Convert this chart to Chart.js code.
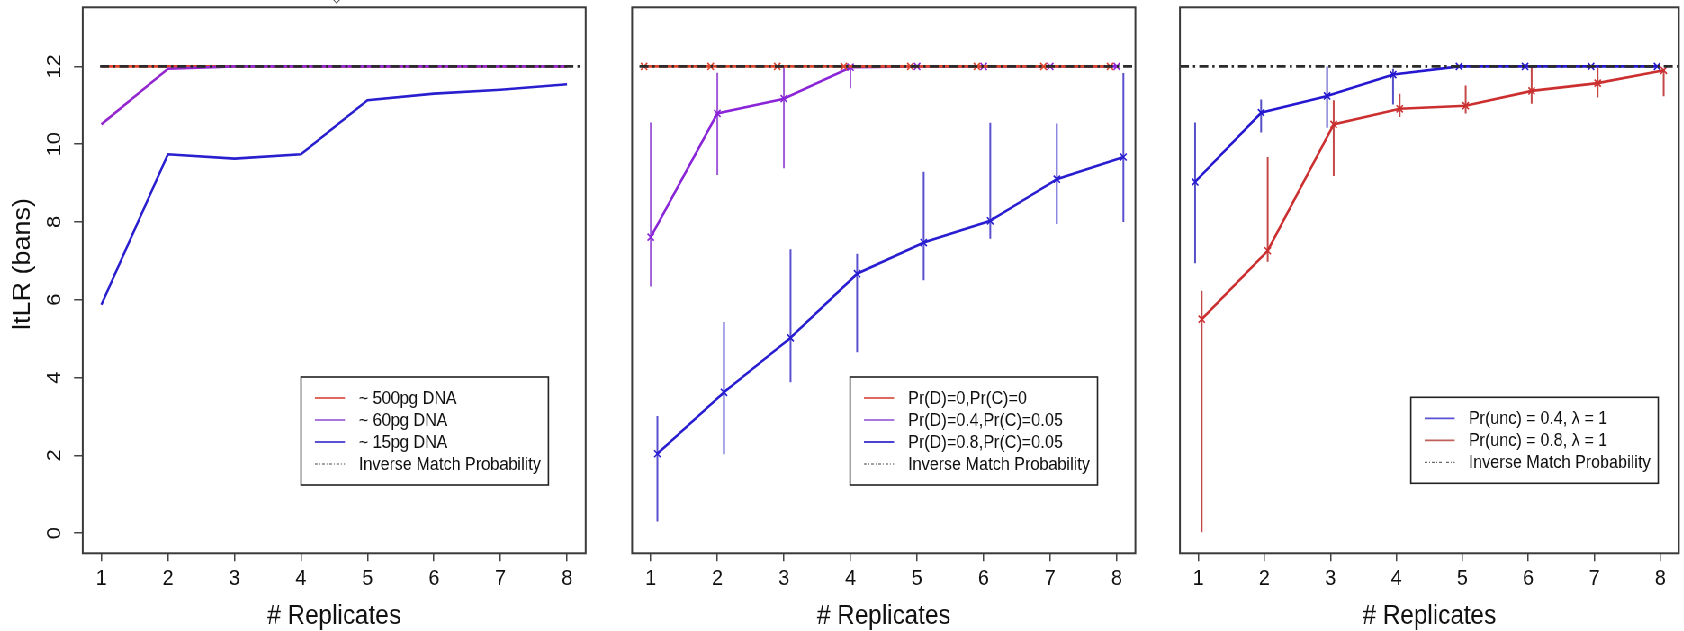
<!DOCTYPE html>
<html>
<head>
<meta charset="utf-8">
<script src="https://cdn.jsdelivr.net/npm/chart.js@4.4.1/dist/chart.umd.min.js"></script>
<style>
  html, body { margin: 0; padding: 0; background: #fff; overflow: hidden; width: 1684px; height: 631px; }
  #page { position: absolute; left: 0; top: 0; width: 1872px; height: 631px; transform: scaleX(0.9); transform-origin: 0 0; }
  #page canvas { position: absolute; top: 0; }
</style>
</head>
<body>
<div id="page">
  <canvas id="c1" width="680" height="631" style="left:0px"></canvas>
  <canvas id="c2" width="610" height="631" style="left:680px"></canvas>
  <canvas id="c3" width="582" height="631" style="left:1290px"></canvas>
</div>
<script>
// values
const replicates = [1, 2, 3, 4, 5, 6, 7, 8];
const yTicks = [0, 2, 4, 6, 8, 10, 12];
const impValue = 12;
const impLabel = 'Inverse Match Probability';

// left panel: amount of DNA
const p1Names = ['~ 500pg DNA', '~ 60pg DNA', '~ 15pg DNA'];
const p1Dna500 = [12, 12, 12, 12, 12, 12, 12, 12];
const p1Dna60 = [10.51, 11.94, 12, 12, 12, 12, 12, 12];
const p1Dna15 = [5.87, 9.74, 9.63, 9.74, 11.13, 11.30, 11.40, 11.54];
const p1ImpX = [0.98, 8.25];

// middle panel: dropout / dropin
const p2Names = ['Pr(D)=0,Pr(C)=0', 'Pr(D)=0.4,Pr(C)=0.05', 'Pr(D)=0.8,Pr(C)=0.05'];
const p2Zero = [12, 12, 12, 12, 12, 12, 12, 12];
const p2Mid = [7.61, 10.79, 11.17, 11.98, 12, 12, 12, 12];
const p2MidLo = [6.34, 9.21, 9.38, 11.44, 12, 12, 12, 12];
const p2MidHi = [10.56, 11.84, 12.0, 12.0, 12, 12, 12, 12];
const p2High = [2.04, 3.62, 5.02, 6.67, 7.47, 8.03, 9.10, 9.67];
const p2HighLo = [0.30, 2.03, 3.88, 4.65, 6.50, 7.57, 7.95, 8.00];
const p2HighHi = [3.01, 5.43, 7.30, 7.18, 9.29, 10.55, 10.53, 11.83];
const p2ImpX = [0.83, 8.25];

// right panel: uncertain alleles
const p3Names = ['Pr(unc) = 0.4, \u03bb = 1', 'Pr(unc) = 0.8, \u03bb = 1'];
const p3Unc4 = [9.03, 10.81, 11.24, 11.79, 12, 12, 12, 12];
const p3Unc4Lo = [6.94, 10.30, 10.42, 11.02, 12, 12, 12, 12];
const p3Unc4Hi = [10.56, 11.15, 12.0, 11.94, 12, 12, 12, 12];
const p3Unc8 = [5.50, 7.26, 10.51, 10.91, 10.99, 11.37, 11.57, 11.90];
const p3Unc8Lo = [0.02, 6.98, 9.18, 10.70, 10.79, 11.04, 11.20, 11.23];
const p3Unc8Hi = [6.23, 9.67, 11.13, 11.30, 11.51, 11.98, 11.98, 11.94];
const p3ImpX = [0.72, 8.28];

const FONT = '"Liberation Sans", Arial, sans-serif';
Chart.defaults.font.family = FONT;
Chart.defaults.color = '#111';

const lineSet = (label, xs, ys, color, marker) => ({
  label: label,
  data: xs.map((x, i) => ({ x: x, y: ys[i] })),
  borderColor: color,
  backgroundColor: color,
  borderWidth: 2.6,
  pointStyle: 'crossRot',
  pointRadius: marker ? 5 : 0,
  pointBorderWidth: 1.6,
  pointBorderColor: color,
  tension: 0
});
const barSet = (xs, lo, hi, color) => ({
  data: xs.flatMap((x, i) => [{ x: x, y: lo[i] }, { x: x, y: hi[i] }, { x: x, y: null }]),
  borderColor: color,
  borderWidth: 2,
  pointRadius: 0,
  spanGaps: false
});
const impSet = xs => ({
  label: impLabel,
  data: xs.map(x => ({ x: x, y: impValue })),
  borderColor: '#2b2b2b',
  borderWidth: 2.6,
  borderDash: [10, 4.5, 2.5, 4.5],
  pointRadius: 0
});

const framePlugin = {
  id: 'frame',
  afterDraw(chart) {
    const { ctx, chartArea: a } = chart;
    ctx.save();
    ctx.strokeStyle = '#3a3a3a';
    ctx.lineWidth = 2;
    ctx.strokeRect(a.left, a.top, a.right - a.left, a.bottom - a.top);
    ctx.restore();
  }
};

function legendPlugin(items, right, bottom) {
  return {
    id: 'boxLegend',
    afterDatasetsDraw(chart) {
      const { ctx, chartArea: a } = chart;
      ctx.save();
      ctx.font = '18px ' + FONT;
      const textW = Math.max(...items.map(it => ctx.measureText(it.label).width));
      const w = 64.3 + textW + 8.5;
      const h = items.length * 22 + 20;
      const x0 = a.right - right - w;
      const y0 = a.bottom - bottom - h;
      ctx.fillStyle = '#fff';
      ctx.fillRect(x0, y0, w, h);
      ctx.strokeStyle = '#222';
      ctx.lineWidth = 1.6;
      ctx.strokeRect(x0, y0, w, h);
      items.forEach((it, i) => {
        const y = y0 + 21 + i * 22;
        ctx.beginPath();
        ctx.setLineDash(it.dash ? [3, 2, 1, 2] : []);
        ctx.strokeStyle = it.color;
        ctx.lineWidth = it.dash ? 1 : 1.8;
        ctx.moveTo(x0 + 15.4, y);
        ctx.lineTo(x0 + 48.8, y);
        ctx.stroke();
        ctx.setLineDash([]);
        ctx.fillStyle = '#111';
        ctx.textAlign = 'left';
        ctx.textBaseline = 'middle';
        ctx.fillText(it.label, x0 + 64.3, y + 1);
      });
      ctx.restore();
    }
  };
}

// y title of the first panel, plus the clipped glyph at the top edge
const yTitlePlugin = {
  id: 'yTitle',
  afterDraw(chart) {
    const ctx = chart.ctx;
    ctx.save();
    ctx.translate(25.9, 264);
    ctx.rotate(-Math.PI / 2);
    ctx.font = '27px ' + FONT;
    ctx.fillStyle = '#111';
    ctx.textAlign = 'center';
    ctx.textBaseline = 'middle';
    ctx.fillText('ltLR (bans)', 0, 0);
    ctx.restore();
    ctx.save();
    ctx.font = '15px "DejaVu Sans"';
    ctx.fillStyle = '#333';
    ctx.textAlign = 'center';
    ctx.textBaseline = 'middle';
    ctx.fillText('\u25c7', 373.9, -2);
    ctx.restore();
  }
};

function makeOptions(padLeft, padRight, showY) {
  return {
    responsive: false,
    animation: false,
    events: [],
    layout: { padding: { left: padLeft, right: padRight, top: 7.3, bottom: 0 } },
    plugins: { legend: { display: false }, tooltip: { enabled: false } },
    scales: {
      x: {
        type: 'linear',
        min: 0.72,
        max: 8.28,
        afterBuildTicks: s => { s.ticks = replicates.map(v => ({ value: v })); },
        afterFit: s => { s.height = 77.7; s.paddingLeft = 0; s.paddingRight = 0; },
        ticks: { font: { size: 22 }, color: '#111', padding: 4, maxRotation: 0, autoSkip: false },
        grid: { drawOnChartArea: false, drawTicks: true, tickLength: 8, color: '#444', lineWidth: 1.5 },
        border: { display: false },
        title: { display: true, text: '# Replicates', font: { size: 27, lineHeight: 1 }, color: '#111', padding: { top: 0, bottom: 1 } }
      },
      y: {
        type: 'linear',
        display: showY,
        min: -0.52,
        max: 13.52,
        afterBuildTicks: s => { s.ticks = yTicks.map(v => ({ value: v })); },
        afterFit: s => {
          if (!showY) return;
          s.width = 91.9;
          s.paddingTop = 0;
          s.paddingBottom = 0;
        },
        ticks: { font: { size: 22 }, color: '#111', minRotation: 90, maxRotation: 90, crossAlign: 'center', padding: 9 },
        grid: { drawOnChartArea: false, drawTicks: true, tickLength: 9.7, color: '#444', lineWidth: 1.5 },
        border: { display: false }
      }
    }
  };
}

const shift = d => replicates.map(r => r + d);

new Chart(document.getElementById('c1'), {
  type: 'line',
  data: {
    datasets: [
      impSet(p1ImpX),
      lineSet(p1Names[2], replicates, p1Dna15, '#2a1fcf', false),
      lineSet(p1Names[1], replicates, p1Dna60, '#9328cf', false),
      lineSet(p1Names[0], replicates, p1Dna500, '#e0442c', false)
    ]
  },
  options: makeOptions(0, 29.2, true),
  plugins: [framePlugin, yTitlePlugin, legendPlugin([
    { label: p1Names[0], color: '#dd6a5c' },
    { label: p1Names[1], color: '#a878dc' },
    { label: p1Names[2], color: '#5a52d2' },
    { label: impLabel, color: '#444', dash: true }
  ], 41.4, 68.3)]
});

new Chart(document.getElementById('c2'), {
  type: 'line',
  data: {
    datasets: [
      impSet(p2ImpX),
      lineSet(p2Names[0], shift(-0.1), p2Zero, '#d9452f', true),
      lineSet(p2Names[1], replicates, p2Mid, '#8a25d8', true),
      lineSet(p2Names[2], shift(0.1), p2High, '#2a1fd0', true),
      barSet(replicates, p2MidLo, p2MidHi, '#a05cd8'),
      barSet(shift(0.1), p2HighLo, p2HighHi, '#5a50d0')
    ]
  },
  options: makeOptions(22.4, 28.4, false),
  plugins: [framePlugin, legendPlugin([
    { label: p2Names[0], color: '#dd6a5c' },
    { label: p2Names[1], color: '#a878dc' },
    { label: p2Names[2], color: '#4a42d0' },
    { label: impLabel, color: '#444', dash: true }
  ], 42.1, 68.3)]
});

new Chart(document.getElementById('c3'), {
  type: 'line',
  data: {
    datasets: [
      impSet(p3ImpX),
      lineSet(p3Names[0], shift(-0.05), p3Unc4, '#2518d0', true),
      lineSet(p3Names[1], shift(0.05), p3Unc8, '#cc2f2f', true),
      barSet(shift(-0.05), p3Unc4Lo, p3Unc4Hi, '#5550c8'),
      barSet(shift(0.05), p3Unc8Lo, p3Unc8Hi, '#c44848')
    ]
  },
  options: makeOptions(21.1, 1.7, false),
  plugins: [framePlugin, legendPlugin([
    { label: p3Names[0], color: '#5a52d2' },
    { label: p3Names[1], color: '#c0605a' },
    { label: impLabel, color: '#444', dash: true }
  ], 22.9, 70)]
});
</script>
</body>
</html>
